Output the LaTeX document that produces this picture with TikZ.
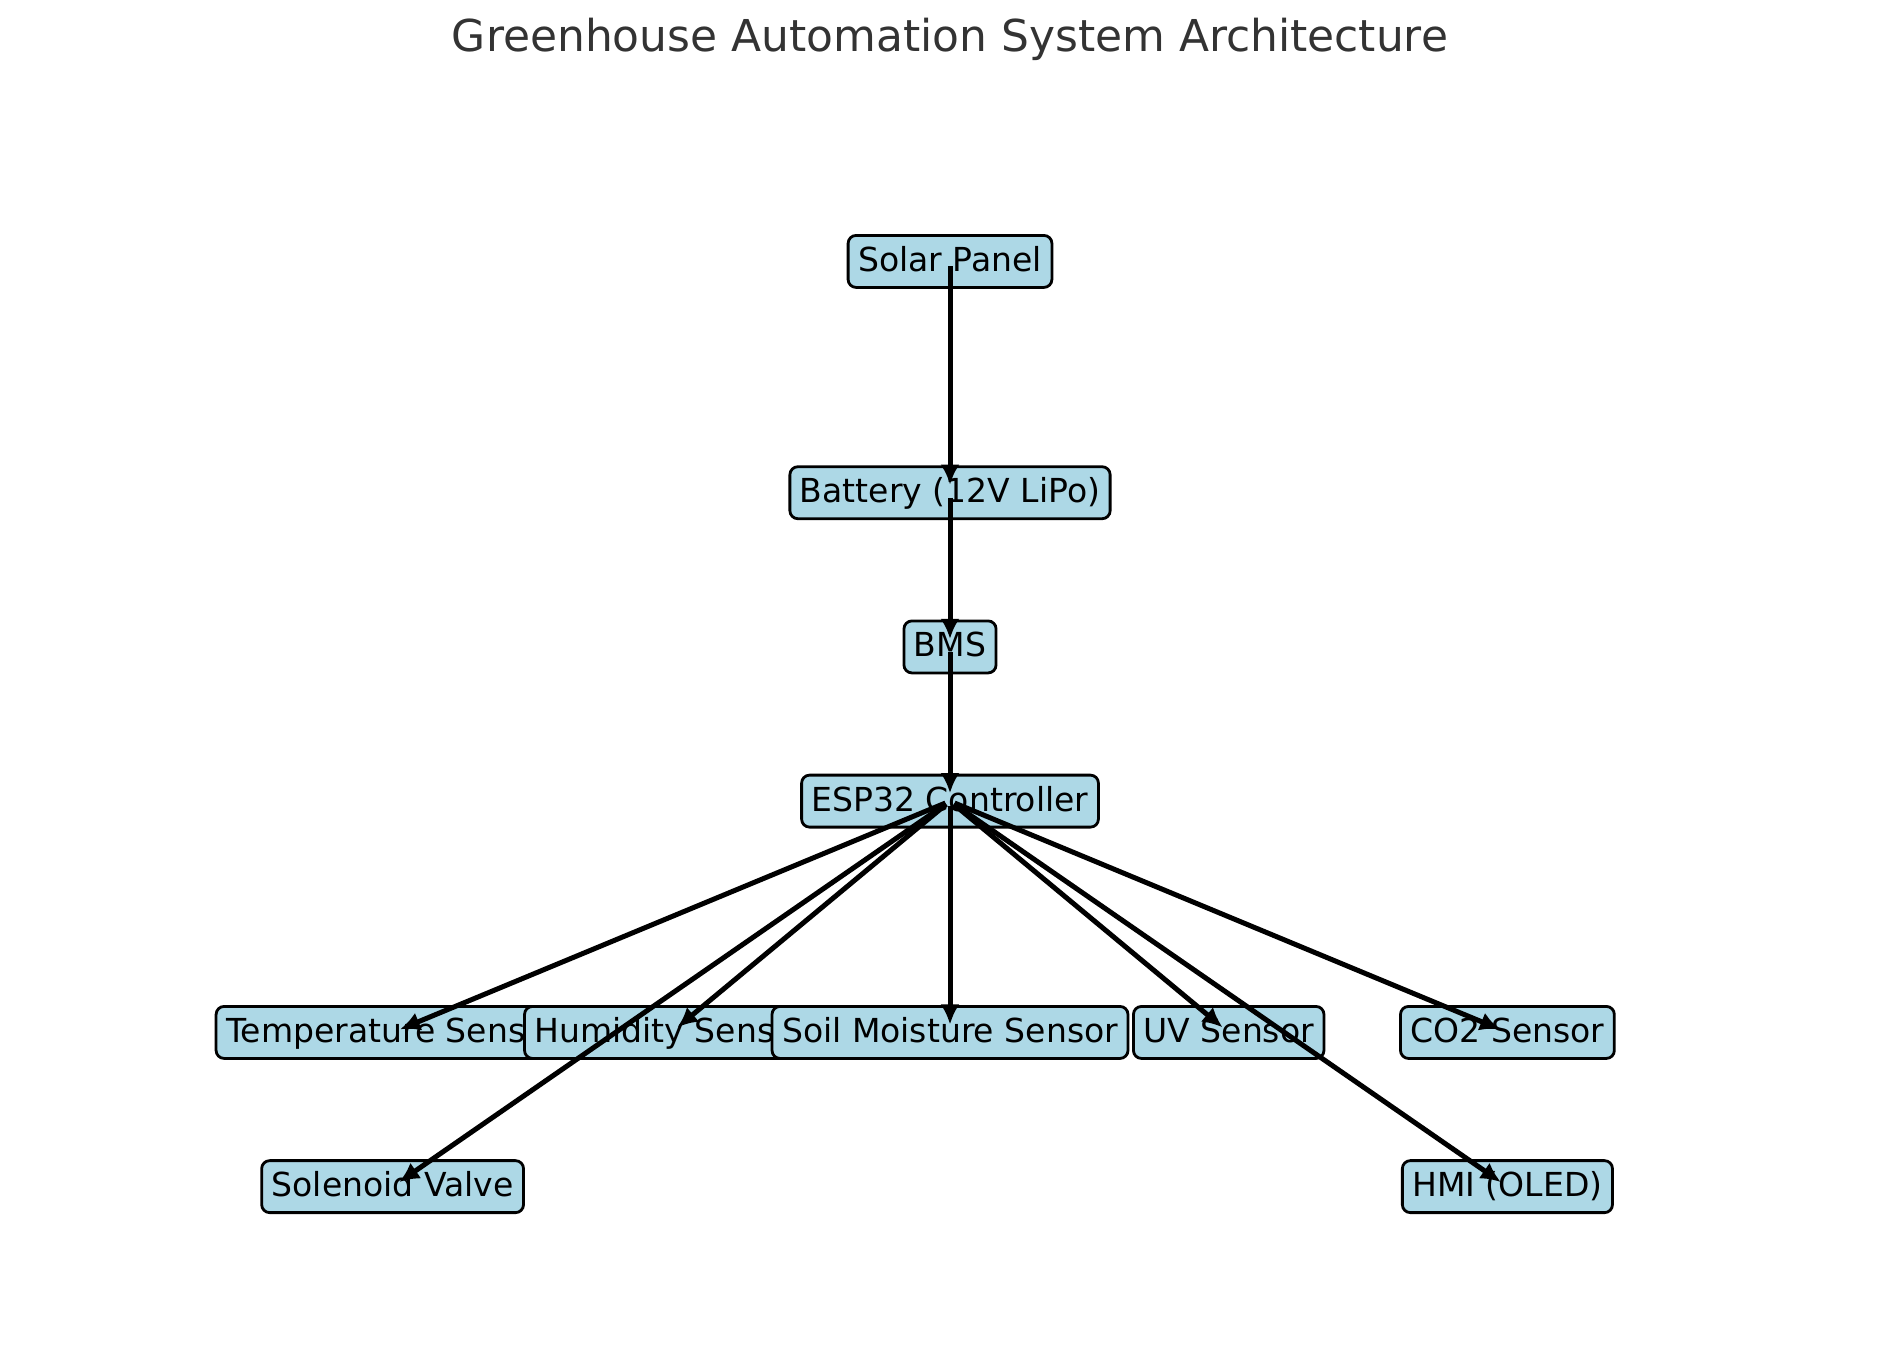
\documentclass[tikz,border=0pt]{standalone}
\usepackage{fontspec}
\setmainfont{DejaVu Sans}
\usetikzlibrary{arrows.meta,positioning}
\definecolor{boxblue}{RGB}{173,216,230}
\definecolor{titlegray}{RGB}{51,51,51}
\tikzset{
  basic/.style = {draw, line width=0.028cm, rectangle, rounded corners=0.08cm,
                  fill=boxblue, font=\fontsize{9.4}{11}\selectfont},
  part/.style  = {basic, inner xsep=0.1cm, inner ysep=0.1cm,
                  text height=0.26cm, text depth=0.06cm},
  link/.style  = {->, line width=0.05cm, shorten <=0.05cm, shorten >=0.08cm}
}

\begin{document}
\begin{tikzpicture}[
  on grid,
  >={Latex[length=0.2cm,width=0.19cm]}]
\useasboundingbox (0,0) rectangle (19,-13.61);

% title on top
\node[font=\fontsize{12.5}{15}\selectfont, text=titlegray] (title) at (9.5,-0.39)
  {Greenhouse Automation System Architecture};

% power chain, straight down
\node[part] (solar) at (9.5,-2.614) {Solar Panel};
\node[part, below=2.313cm of solar] (battery) {Battery (12V LiPo)};
\node[part, below=1.542cm of battery] (bms) {BMS};
\node[part, below=1.542cm of bms] (esp) {ESP32 Controller};

% sensors row, relatively positioned
\node[part, below=2.313cm of esp, xshift=-5.574cm] (temp) {Temperature Sensor};
\node[part, right=2.787cm of temp] (hum) {Humidity Sensor};
\node[part, right=2.787cm of hum] (soil) {Soil Moisture Sensor};
\node[part, right=2.787cm of soil] (uv) {UV Sensor};
\node[part, right=2.787cm of uv] (co2) {CO2 Sensor};

% actuators and display
\node[part, below=1.542cm of temp] (valve) {Solenoid Valve};
\node[part, below=1.542cm of co2] (hmi) {HMI (OLED)};

% arrows from center to center
\draw[link] (solar.center) -- (battery.center);
\draw[link] (battery.center) -- (bms.center);
\draw[link] (bms.center) -- (esp.center);

\foreach \value in {temp,hum,soil,uv,co2,valve,hmi}
  \draw[link] (esp.center) -- (\value.center);

\end{tikzpicture}
\end{document}
